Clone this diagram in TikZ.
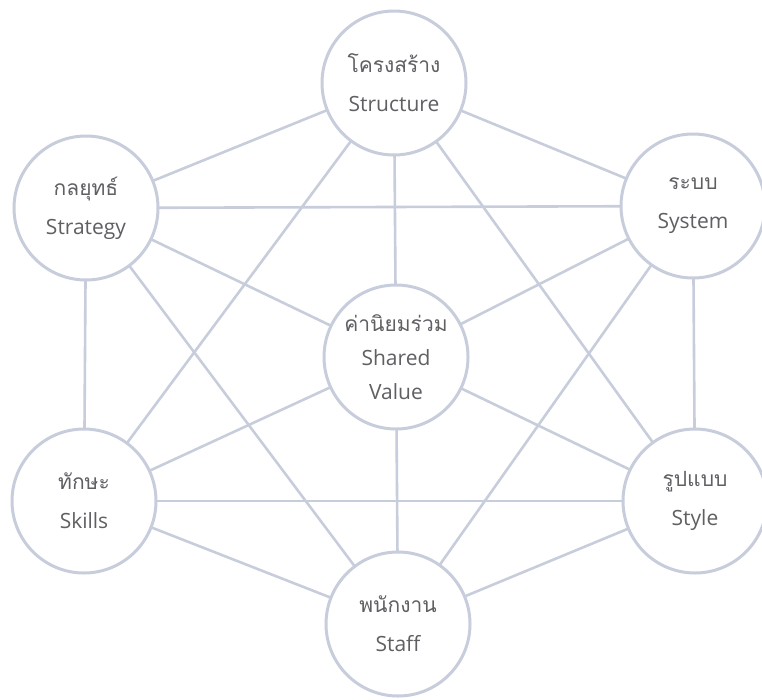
\documentclass[tikz,border=0pt]{standalone}
\usepackage{fontspec}
\setmainfont{Open Sans}
\newfontfamily\thaifont[Script=Thai]{Loma}
\usetikzlibrary{backgrounds}
\definecolor{ln}{RGB}{200,205,220}
\definecolor{tx}{RGB}{95,95,100}
\begin{document}
\begin{tikzpicture}[x=1pt,y=-1pt,
  sev/.style={circle, draw=ln, line width=3pt, fill=white, minimum size=144pt,
    inner sep=0pt, align=center, text=tx, font=\fontsize{21}{39}\selectfont},
  link/.style={draw=ln, line width=2.6pt}]
\useasboundingbox (0,0) rectangle (762,699);
\node[sev] (structure) at (394,83) {{\thaifont โครงสร้าง}\\Structure};
\node[sev] (strategy) at (86,208) {{\thaifont กลยุทธ์}\\Strategy};
\node[sev] (system) at (693,206) {{\thaifont ระบบ}\\System};
\node[sev, font=\fontsize{21}{34}\selectfont] (shared) at (396,357) {{\thaifont ค่านิยมร่วม}\\Shared\\Value};
\node[sev] (skills) at (84,501) {{\thaifont ทักษะ}\\Skills};
\node[sev] (style) at (695,501) {{\thaifont รูปแบบ}\\Style};
\node[sev] (staff) at (398,624) {{\thaifont พนักงาน}\\Staff};
\begin{scope}[on background layer]
\foreach \a/\b in {structure/strategy, structure/system, structure/shared, structure/skills,
  structure/style, strategy/system, strategy/shared, strategy/skills,
  strategy/staff, system/shared, system/style, system/staff,
  shared/skills, shared/style, shared/staff, skills/style, skills/staff, style/staff}
  \draw[link] (\a.center) -- (\b.center);
\end{scope}
\end{tikzpicture}
\end{document}
